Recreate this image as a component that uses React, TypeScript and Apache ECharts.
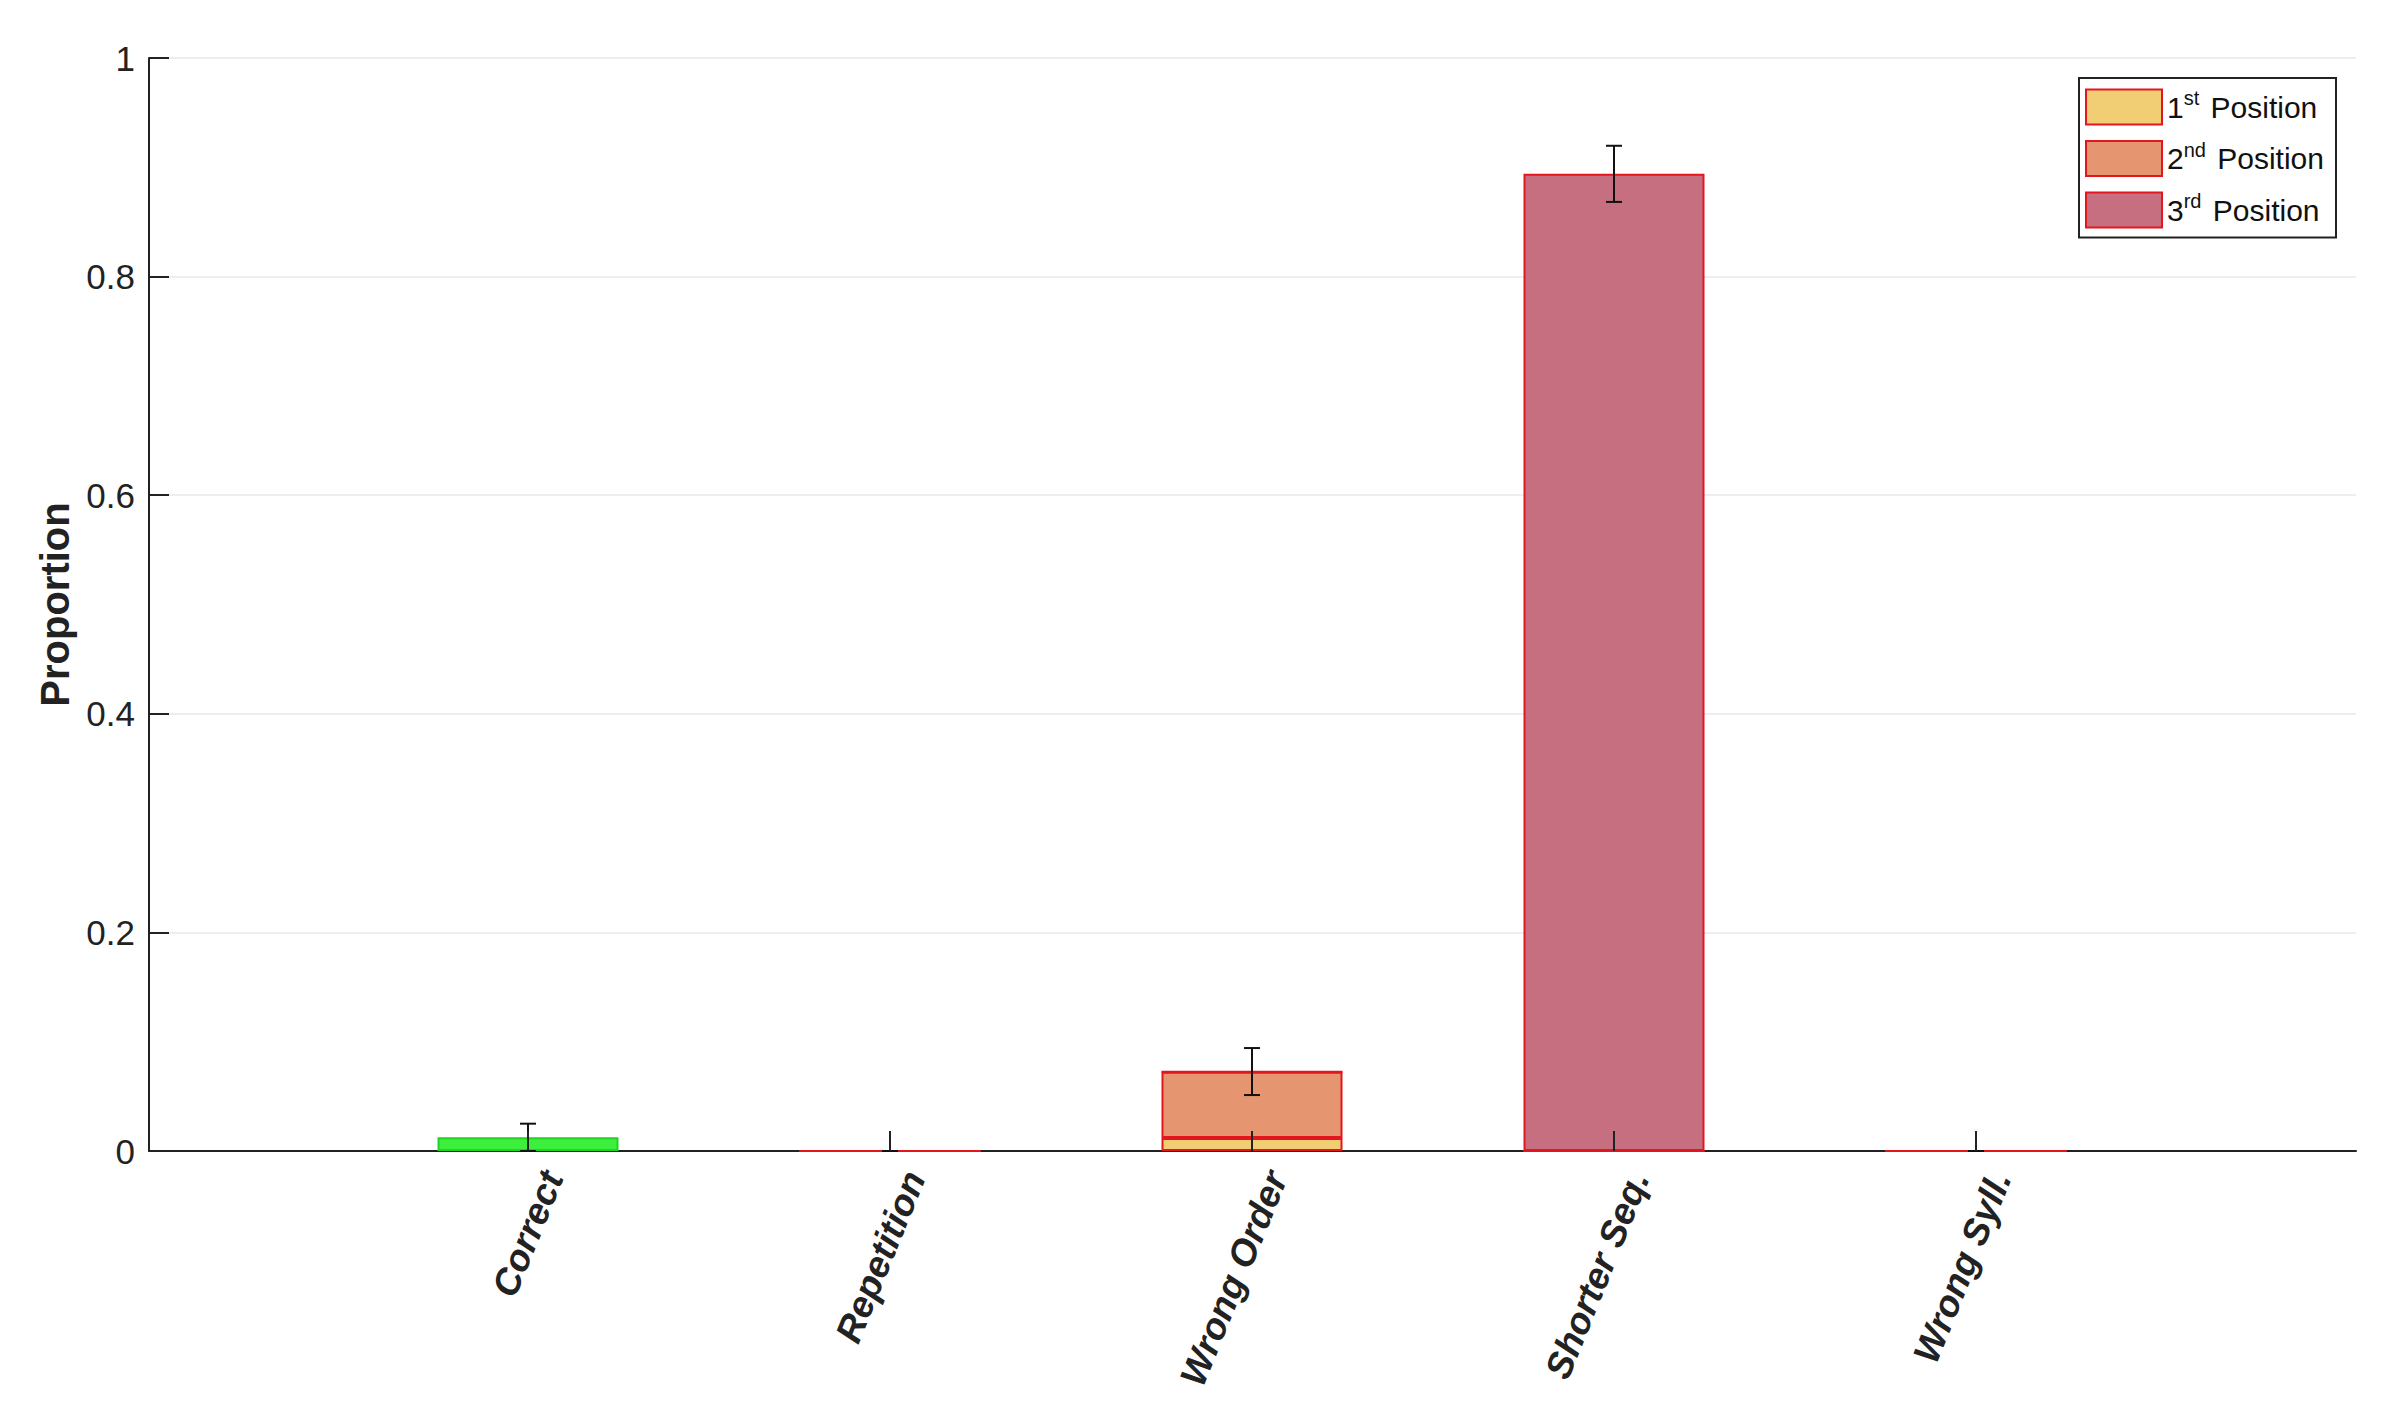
import React, { useEffect, useRef } from 'react';
import * as echarts from 'echarts';

// categories along x (blank slots at both ends pad the x-limits)
const categories = ['', 'Correct', 'Repetition', 'Wrong Order', 'Shorter Seq.', 'Wrong Syll.', ''];

// stacked bar values per category slot
const correctVals = [null, 0.0125, null, null, null, null, null];
const firstPos = [null, null, 0, 0.012, 0, 0, null];
const secondPos = [null, null, 0, 0.0605, 0, 0, null];
const thirdPos = [null, null, 0, 0, 0.894, 0, null];

// error bars: slot index, mean, half-length
const errIdx = [1, 2, 3, 4, 5];
const errMean = [0.0125, 0, 0.0727, 0.894, 0];
const errHalf = [0.0125, 0, 0.0215, 0.0257, 0];

const yTicks = [0, 0.2, 0.4, 0.6, 0.8, 1];

const FONT = 'Liberation Sans';

export default function App() {
  const ref = useRef<HTMLDivElement>(null);

  useEffect(() => {
    if (!ref.current) return;
    const chart = echarts.init(ref.current, null, { renderer: 'svg' });

    const edge = '#e3161f';
    const dark = '#222';
    const notEnd = (i: number) => i > 0 && i < categories.length - 1;

    const option: any = {
      animation: false,
      backgroundColor: '#ffffff',
      textStyle: { fontFamily: FONT },
      grid: [
        // frame grid: y axis + x axis line
        { left: 149, top: 58, right: 44, bottom: 268 },
        // bar grid, category slots 0..6
        { left: 166, top: 58, right: 62, bottom: 268 },
      ],
      legend: {
        data: ['1st Position', '2nd Position', '3rd Position'],
        orient: 'vertical',
        right: 64,
        top: 78,
        icon: 'rect',
        itemWidth: 76,
        itemHeight: 35,
        itemGap: 14,
        padding: [10, 12, 9, 6],
        borderColor: dark,
        borderWidth: 2,
        backgroundColor: '#fff',
        formatter: (name: string) => {
          const sup = name.slice(1, name.indexOf(' '));
          return `{b|${name[0]}}{s|${sup}}{b| Position}`;
        },
        textStyle: {
          fontFamily: FONT,
          color: '#111',
          rich: {
            b: { fontSize: 30, fontFamily: FONT, color: '#111' },
            s: { fontSize: 20, fontFamily: FONT, color: '#111', padding: [0, 3, 18, 0] },
          },
        },
      },
      xAxis: [
        {
          type: 'value',
          gridIndex: 0,
          min: 0,
          max: 1,
          axisLine: { show: true, onZero: false, lineStyle: { color: dark, width: 2 } },
          axisTick: { show: false },
          axisLabel: { show: false },
          splitLine: { show: false },
        },
        {
          type: 'category',
          gridIndex: 1,
          data: categories,
          boundaryGap: false,
          z: 10,
          axisLine: { show: false },
          axisTick: {
            show: true,
            inside: true,
            length: 20,
            interval: notEnd,
            lineStyle: { color: dark, width: 2 },
          },
          axisLabel: {
            interval: notEnd,
            rotate: 68,
            margin: 12,
            verticalAlign: 'top',
            padding: [8, 0, 0, 0],
            fontSize: 37,
            fontWeight: 'bold',
            fontStyle: 'italic',
            fontFamily: FONT,
            color: dark,
          },
          splitLine: { show: false },
        },
      ],
      yAxis: [
        {
          type: 'value',
          gridIndex: 0,
          min: 0,
          max: 1,
          interval: 0.2,
          name: 'Proportion',
          nameLocation: 'middle',
          nameGap: 74,
          nameTextStyle: { fontSize: 40, fontWeight: 'bold', fontFamily: FONT, color: dark },
          axisLine: { show: true, lineStyle: { color: dark, width: 2 } },
          axisTick: { show: true, inside: true, length: 20, lineStyle: { color: dark, width: 2 } },
          axisLabel: {
            fontSize: 35,
            fontFamily: FONT,
            color: dark,
            margin: 14,
            formatter: (v: number) => {
              const t = yTicks.find((k) => Math.abs(k - v) < 1e-9);
              return t === undefined ? '' : String(+t.toFixed(1));
            },
          },
          splitLine: { show: true, lineStyle: { color: '#e8e8e8', width: 1.5 } },
        },
        {
          type: 'value',
          gridIndex: 1,
          min: 0,
          max: 1,
          show: false,
          splitLine: { show: false },
        },
      ],
      series: [
        {
          name: 'Correct',
          type: 'bar',
          xAxisIndex: 1,
          yAxisIndex: 1,
          stack: 'all',
          barWidth: '50%',
          data: correctVals,
          itemStyle: { color: '#3cef3c', borderColor: '#22d422', borderWidth: 2 },
        },
        {
          name: '1st Position',
          type: 'bar',
          xAxisIndex: 1,
          yAxisIndex: 1,
          stack: 'all',
          barWidth: '50%',
          data: firstPos,
          itemStyle: { color: '#f1cd74', borderColor: edge, borderWidth: 2 },
        },
        {
          name: '2nd Position',
          type: 'bar',
          xAxisIndex: 1,
          yAxisIndex: 1,
          stack: 'all',
          barWidth: '50%',
          data: secondPos,
          itemStyle: { color: '#e5956f', borderColor: edge, borderWidth: 2 },
        },
        {
          name: '3rd Position',
          type: 'bar',
          xAxisIndex: 1,
          yAxisIndex: 1,
          stack: 'all',
          barWidth: '50%',
          data: thirdPos,
          itemStyle: { color: '#c66f81', borderColor: edge, borderWidth: 2 },
        },
        {
          name: 'err',
          type: 'custom',
          xAxisIndex: 1,
          yAxisIndex: 1,
          z: 5,
          data: errIdx.map((x, i) => [x, errMean[i], errHalf[i]]),
          encode: { x: 0, y: 1 },
          renderItem: (params: any, api: any) => {
            const x = api.value(0);
            const m = api.value(1);
            const e = api.value(2);
            const top = api.coord([x, m + e]);
            const bot = api.coord([x, m - e]);
            const hw = 8;
            const st = { stroke: '#111', lineWidth: 2 };
            return {
              type: 'group',
              children: [
                { type: 'line', shape: { x1: top[0], y1: top[1], x2: bot[0], y2: bot[1] }, style: st },
                { type: 'line', shape: { x1: top[0] - hw, y1: top[1], x2: top[0] + hw, y2: top[1] }, style: st },
                { type: 'line', shape: { x1: bot[0] - hw, y1: bot[1], x2: bot[0] + hw, y2: bot[1] }, style: st },
              ],
            };
          },
        },
      ],
    };

    chart.setOption(option);
    return () => {
      chart.dispose();
    };
  }, []);

  return (
    <div
      ref={ref}
      style={{ position: 'absolute', left: 0, top: 0, width: 2400, height: 1419, background: '#fff' }}
    />
  );
}
